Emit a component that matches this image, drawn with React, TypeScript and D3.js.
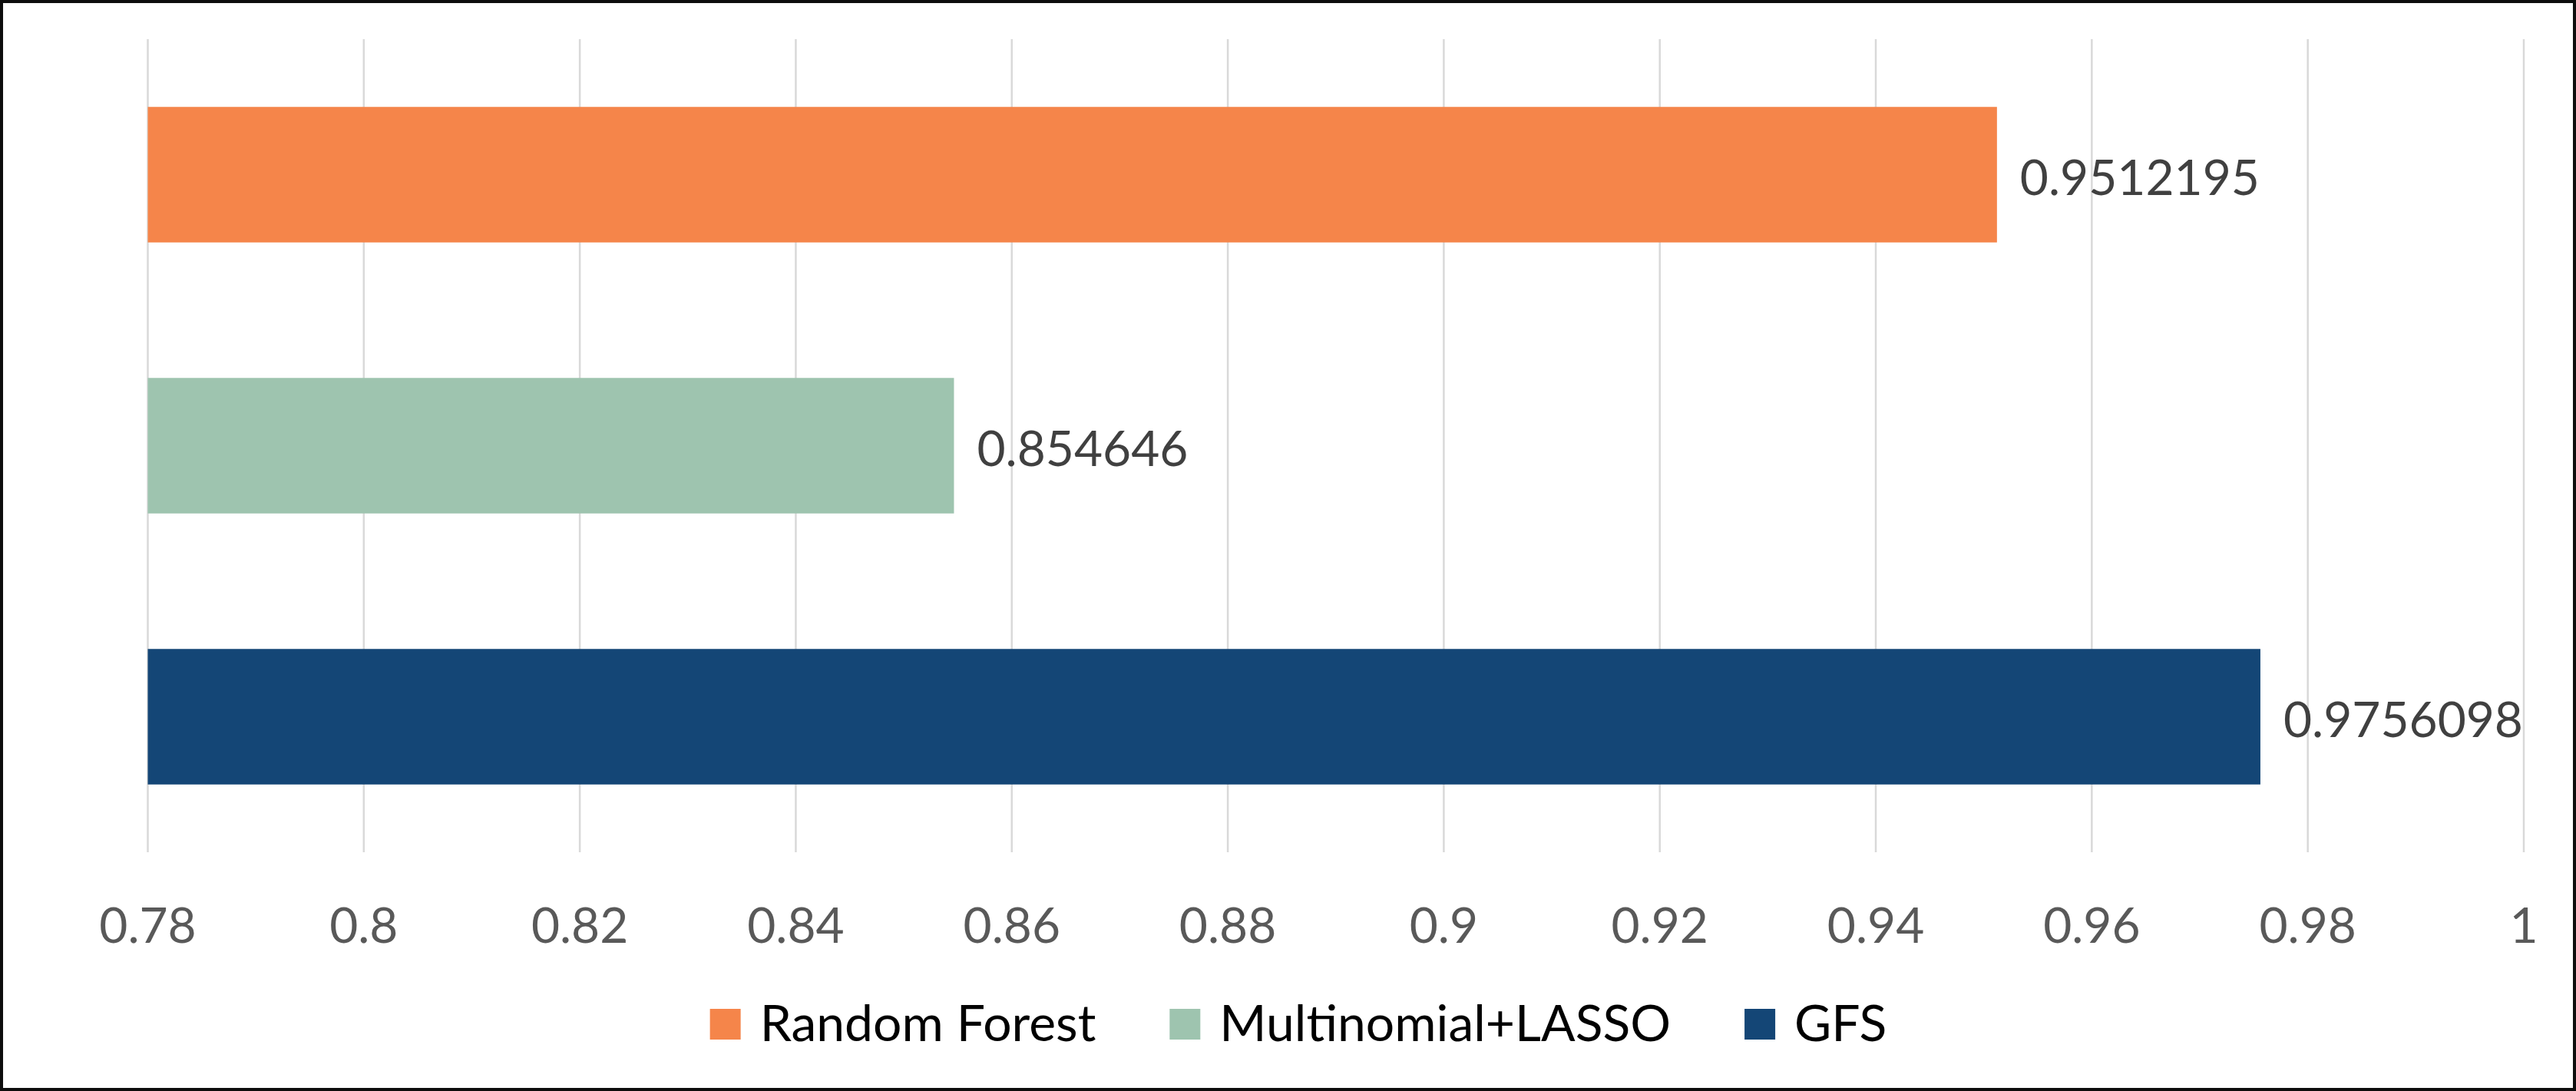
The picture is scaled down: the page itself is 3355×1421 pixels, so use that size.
import React, { useEffect, useRef } from "react";
import * as d3 from "d3";

const categories = ["Random Forest", "Multinomial+LASSO", "GFS"];
const values = [0.9512195, 0.854646, 0.9756098];
const valueLabels = ["0.9512195", "0.854646", "0.9756098"];
const colors = ["#F5854A", "#9EC4AF", "#144676"];
const xTicks = [0.78, 0.8, 0.82, 0.84, 0.86, 0.88, 0.9, 0.92, 0.94, 0.96, 0.98, 1];
const xDomain = [0.78, 1];

const W = 3355;
const H = 1421;
const FONT = "Lato, 'Open Sans', sans-serif";
const FS = 64;
const LEG_FS = 66;

export default function App() {
  const ref = useRef<SVGSVGElement | null>(null);

  useEffect(() => {
    const svg = d3.select(ref.current);
    svg.selectAll("*").remove();

    svg.append("rect").attr("x", 0).attr("y", 0).attr("width", W).attr("height", H).attr("fill", "#fff");

    const x = d3.scaleLinear().domain(xDomain).range([192.5, 3287]);
    const y = d3.scaleBand<string>().domain(categories).range([51, 1110]).paddingInner(0.5).paddingOuter(0.25);

    // gridlines
    svg
      .append("g")
      .selectAll("line")
      .data(xTicks)
      .join("line")
      .attr("x1", (d) => x(d))
      .attr("x2", (d) => x(d))
      .attr("y1", 51)
      .attr("y2", 1110)
      .attr("stroke", "#D9D9D9")
      .attr("stroke-width", 2.5);

    // bars
    svg
      .append("g")
      .selectAll("rect")
      .data(categories)
      .join("rect")
      .attr("x", x(xDomain[0]))
      .attr("y", (d) => y(d)!)
      .attr("width", (_d, i) => x(values[i]) - x(xDomain[0]))
      .attr("height", y.bandwidth())
      .attr("fill", (_d, i) => colors[i]);

    // data labels
    svg
      .append("g")
      .selectAll("text")
      .data(categories)
      .join("text")
      .attr("x", (_d, i) => x(values[i]) + 30)
      .attr("y", (d) => y(d)! + y.bandwidth() / 2 + 26)
      .attr("font-family", FONT)
      .attr("font-size", FS)
      .attr("fill", "#404040")
      .text((_d, i) => valueLabels[i]);

    // tick labels
    svg
      .append("g")
      .selectAll("text")
      .data(xTicks)
      .join("text")
      .attr("x", (d) => x(d))
      .attr("y", 1228)
      .attr("text-anchor", "middle")
      .attr("font-family", FONT)
      .attr("font-size", FS)
      .attr("fill", "#595959")
      .text((d) => d3.format("")(d));

    // legend
    const lg = svg.append("g");
    const sq = 40;
    const gap = 25;
    const itemGap = 96;
    let cx = 0;
    const items: { g: any; w: number }[] = [];
    categories.forEach((c, i) => {
      const g = lg.append("g");
      g.append("rect").attr("x", 0).attr("y", 1314).attr("width", sq).attr("height", sq).attr("fill", colors[i]);
      const t = g
        .append("text")
        .attr("x", sq + gap)
        .attr("y", 1356)
        .attr("font-family", FONT)
        .attr("font-size", LEG_FS)
        .attr("fill", "#000")
        .text(c);
      const tw = (t.node() as SVGTextElement).getComputedTextLength();
      items.push({ g, w: sq + gap + tw });
    });
    const total = items.reduce((a, b) => a + b.w, 0) + itemGap * (items.length - 1);
    cx = 1691 - total / 2;
    items.forEach((it) => {
      it.g.attr("transform", `translate(${cx},0)`);
      cx += it.w + itemGap;
    });

    // border
    svg
      .append("rect")
      .attr("x", 2)
      .attr("y", 2)
      .attr("width", W - 4)
      .attr("height", H - 4)
      .attr("fill", "none")
      .attr("stroke", "#0D0D0D")
      .attr("stroke-width", 4);
  }, []);

  return (
    <div style={{ position: "fixed", left: 0, top: 0, width: W, height: H }}>
      <svg ref={ref} width={W} height={H} style={{ display: "block" }} />
    </div>
  );
}
